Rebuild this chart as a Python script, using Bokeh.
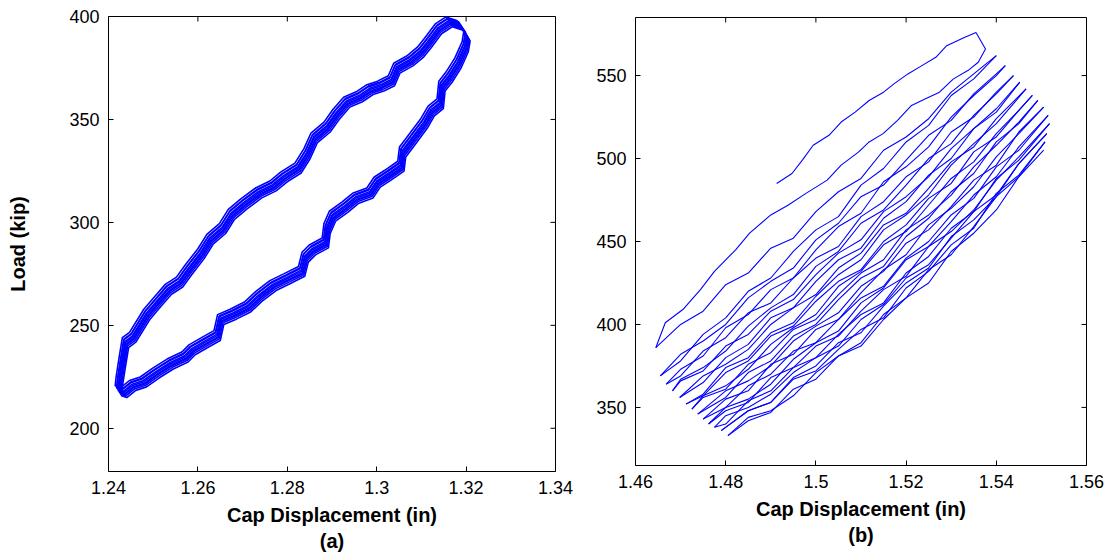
import math
from bokeh.plotting import figure
from bokeh.models import Range1d, FixedTicker, Title
from bokeh.layouts import row, column
from bokeh.embed import file_html
from bokeh.resources import INLINE

# ---------------- Panel (a) data ----------------
a_upper_x = [1.2424, 1.2430, 1.2438, 1.2454, 1.2486, 1.2510, 1.2534, 1.2559, 1.2579, 1.2607,
             1.2627, 1.2655, 1.2675, 1.2703, 1.2736, 1.2768, 1.2792, 1.2824, 1.2844, 1.2860,
             1.2889, 1.2909, 1.2933, 1.2961, 1.2985, 1.3009, 1.3033, 1.3045, 1.3074, 1.3098,
             1.3114, 1.3138, 1.3162, 1.3186, 1.3202]
a_upper_y = [222.5, 231, 241.6, 244.2, 255.4, 261.5, 267.5, 271, 277, 284.8,
             291.8, 297, 303.9, 309, 314.3, 317.7, 322, 326.4, 333.3, 341,
             346.3, 352.4, 358.4, 361, 364.5, 366.2, 368.8, 374.9, 378.4, 382.7,
             387, 394, 397.4, 395.7, 390.5]
a_lower_x = [1.3198, 1.3182, 1.3162, 1.3146, 1.3142, 1.3122, 1.3106, 1.3082, 1.3058, 1.3054,
             1.3025, 1.3001, 1.2985, 1.2953, 1.2929, 1.2901, 1.2889, 1.2885, 1.2856, 1.2840,
             1.2832, 1.2800, 1.2768, 1.2736, 1.2711, 1.2679, 1.2651, 1.2643, 1.2615, 1.2587,
             1.2571, 1.2538, 1.2506, 1.2478, 1.2454, 1.2434, 1.2422, 1.2424]
a_lower_y = [385.3, 377.5, 370.6, 366.2, 357.6, 354.1, 348.1, 341.1, 334.2, 327.3,
             322.9, 319.5, 314.3, 311.7, 307.4, 303, 297, 290, 286.6, 283.1,
             276.2, 272.7, 269.3, 264, 258.9, 255.4, 252.8, 245, 241.6, 238.1,
             234.6, 231.2, 226.8, 222.5, 220.8, 217.3, 218.2, 222.5]
# spread of the repeated cycles
a_cycle_dx = [-0.0007, -0.0004, -0.0001, 0.0002, 0.0005, 0.0007, -0.0003, 0.0003, 0.0000]
a_cycle_dy = [2.4, 1.3, 0.6, -0.6, -1.6, -2.4, 1.8, -1.0, 0.0]

a_xticks = [1.24, 1.26, 1.28, 1.30, 1.32, 1.34]
a_xlabels = ["1.24", "1.26", "1.28", "1.3", "1.32", "1.34"]
a_yticks = [200, 250, 300, 350, 400]
a_ylabels = ["200", "250", "300", "350", "400"]

# ---------------- Panel (b) data ----------------
b_first_x = [1.4913, 1.4947, 1.4970, 1.4994, 1.5029, 1.5056, 1.5087, 1.5118, 1.5150, 1.5173,
             1.5204, 1.5235, 1.5266, 1.5290, 1.5329, 1.5355]
b_first_y = [485, 491, 499, 508, 514, 522, 528, 535, 540, 545, 551, 556, 561, 568, 573, 576]
b_second_x = [1.5355, 1.5376, 1.5360, 1.5337, 1.5305, 1.5274, 1.5243, 1.5212, 1.5181, 1.5149,
              1.5118, 1.5095, 1.5056, 1.5025, 1.4978, 1.4939, 1.4900, 1.4853, 1.4822, 1.4775,
              1.4744, 1.4705, 1.4666, 1.4645]
b_second_y = [576, 566, 558, 553, 548, 540, 536, 532, 523, 515, 510, 504, 496, 487, 479, 472,
              466, 455, 445, 432, 421, 409, 401, 386]

b_grid = [1.470, 1.475, 1.480, 1.485, 1.490, 1.495, 1.500, 1.505, 1.510, 1.515,
          1.520, 1.525, 1.530, 1.535, 1.540, 1.545]
# (start x, first grid index, last grid index, end x)
b_spans = [
    (1.4645, 0, 14, None), (1.4655, 0, 14, None), (1.4655, 0, 14, 1.542), (1.4668, 0, 14, 1.542),
    (1.4668, 0, 14, 1.5438), (1.4682, 0, 14, 1.5438), (1.4682, 0, 14, 1.5452), (1.4698, 1, 14, 1.5452),
    (1.4698, 1, 14, 1.5466), (1.4712, 1, 14, 1.5466), (1.4712, 1, 15, 1.548), (1.4725, 1, 15, 1.548),
    (1.4725, 1, 15, 1.5492), (1.4738, 2, 15, 1.5492), (1.4738, 2, 15, 1.5505), (1.475, 2, 15, 1.5505),
    (1.475, 2, 15, 1.5515), (1.4762, 2, 15, 1.5515), (1.4762, 2, 15, 1.5518), (1.4775, 2, 15, 1.5518),
    (1.4775, 2, 15, 1.5512), (1.479, 3, 15, 1.5512), (1.479, 3, 15, 1.5508), (1.4805, 3, 15, 1.5508),
    (1.4805, 3, 15, 1.5505),
]
b_loads = [
    [386, 400, 408, 424, 431, 446, 452, 468, 480, 488, 505, 513, 524, 540, 551, 562],
    [369, 378, 394, 404, 420, 428, 444, 457, 465, 484, 494, 510, 520, 538, 548, 562],
    [369, 382, 390, 400, 416, 426, 434, 451, 461, 477, 484, 499, 514, 523, 539, 551, 556],
    [364, 373, 381, 398, 406, 421, 428, 445, 459, 467, 486, 495, 507, 525, 538, 550, 556],
    [364, 369, 384, 392, 407, 413, 428, 440, 447, 465, 474, 489, 498, 516, 525, 540, 550],
    [360, 367, 374, 384, 399, 410, 418, 435, 444, 461, 469, 484, 500, 509, 526, 539, 550],
    [360, 366, 372, 387, 394, 408, 415, 430, 443, 451, 468, 477, 489, 506, 518, 530, 546],
    [356, 365, 380, 388, 404, 410, 426, 439, 446, 464, 474, 490, 500, 518, 528, 546],
    [356, 369, 376, 385, 400, 410, 418, 434, 443, 460, 467, 482, 498, 507, 524, 542],
    [352, 358, 374, 380, 395, 401, 417, 430, 439, 457, 466, 478, 496, 509, 521, 542],
    [352, 357, 371, 378, 393, 399, 414, 426, 433, 450, 460, 476, 485, 504, 513, 529, 538],
    [349, 357, 363, 373, 388, 398, 406, 423, 432, 448, 456, 472, 488, 498, 515, 529, 538],
    [349, 356, 361, 376, 383, 397, 403, 418, 431, 439, 457, 466, 478, 495, 508, 522, 535],
    [346, 356, 371, 378, 393, 400, 415, 428, 435, 453, 464, 480, 491, 510, 521, 535],
    [346, 360, 366, 375, 390, 399, 407, 423, 432, 449, 457, 471, 487, 496, 516, 531],
    [343, 355, 360, 376, 382, 397, 403, 419, 433, 442, 460, 470, 483, 501, 515, 531],
    [343, 350, 363, 370, 384, 389, 403, 416, 423, 440, 450, 466, 476, 495, 505, 526],
    [340, 350, 355, 364, 379, 389, 396, 413, 422, 439, 447, 462, 478, 489, 507, 526],
    [340, 348, 353, 368, 374, 387, 393, 408, 421, 429, 447, 456, 469, 487, 501, 521],
    [338, 340, 354, 360, 374, 380, 394, 406, 413, 431, 441, 458, 468, 488, 499, 521],
    [338, 345, 350, 358, 371, 380, 387, 403, 412, 428, 436, 452, 468, 478, 497, 515],
    [336, 348, 353, 368, 375, 389, 395, 411, 425, 434, 453, 463, 477, 497, 515],
    [336, 348, 353, 367, 372, 385, 397, 404, 422, 432, 448, 458, 479, 490, 510],
    [333, 344, 348, 357, 371, 381, 389, 406, 416, 433, 442, 459, 477, 489, 510],
    [333, 342, 347, 361, 367, 381, 387, 403, 416, 425, 444, 455, 469, 489, 505],
]

b_xticks = [1.46, 1.48, 1.50, 1.52, 1.54, 1.56]
b_xlabels = ["1.46", "1.48", "1.5", "1.52", "1.54", "1.56"]
b_yticks = [350, 400, 450, 500, 550]
b_ylabels = ["350", "400", "450", "500", "550"]

FONT = "Liberation Sans"
BLUE = "#0000ff"


def make_panel(xr, yr, xt, xtl, yt, ytl, ylabel, tag, fw, fh, left, right, top, bottom):
    p = figure(width=left + fw + right, height=top + fh + bottom,
               x_range=Range1d(*xr), y_range=Range1d(*yr),
               output_backend="svg", toolbar_location=None,
               min_border_left=left, min_border_right=right,
               min_border_top=top, min_border_bottom=bottom)
    p.grid.visible = False
    p.outline_line_color = "black"
    p.outline_line_width = 1
    p.outline_line_alpha = 1
    p.background_fill_color = "white"
    p.border_fill_color = "white"

    for ax, ticks, labels in ((p.xaxis[0], xt, xtl), (p.yaxis[0], yt, ytl)):
        ax.ticker = FixedTicker(ticks=ticks)
        ax.axis_line_color = None
        ax.major_tick_in = 5
        ax.major_tick_out = 0
        ax.minor_tick_in = 0
        ax.minor_tick_out = 0
        ax.major_tick_line_color = "black"
        ax.major_tick_line_width = 1
        ax.major_label_overrides = {t: l for t, l in zip(ticks, labels)}
        ax.major_label_text_font = FONT
        ax.major_label_text_font_size = "18px"
        ax.major_label_text_color = "black"
        ax.major_label_standoff = 9

    xa = p.xaxis[0]
    xa.axis_label = "Cap Displacement (in)"
    xa.axis_label_text_font = FONT
    xa.axis_label_text_font_style = "bold"
    xa.axis_label_text_font_size = "20px"
    xa.axis_label_text_color = "black"
    xa.axis_label_standoff = 7
    if ylabel:
        ya = p.yaxis[0]
        ya.axis_label = ylabel
        ya.axis_label_text_font = FONT
        ya.axis_label_text_font_style = "bold"
        ya.axis_label_text_font_size = "20px"
        ya.axis_label_text_color = "black"
        ya.axis_label_standoff = 37

    # inward ticks on the top and right edges of the box
    p.ray(x=xt, y=[yr[1]] * len(xt), length=5, length_units="screen",
          angle=-math.pi / 2, line_color="black", line_width=1)
    p.ray(x=[xr[1]] * len(yt), y=yt, length=5, length_units="screen",
          angle=math.pi, line_color="black", line_width=1)

    # panel tag under the axis title
    p.add_layout(Title(text=tag, align="center", text_font=FONT, text_font_style="bold",
                       text_font_size="20px", text_color="black", standoff=-2, offset=0),
                 "below")
    return p


pa = make_panel((1.24, 1.34), (179, 400), a_xticks, a_xlabels, a_yticks, a_ylabels,
                "Load (kip)", "(a)", 447, 455, 108, 20, 16, 83)
loop_x = a_upper_x + a_lower_x
loop_y = a_upper_y + a_lower_y
a_xs = [[x + dx for x in loop_x] for dx in a_cycle_dx]
a_ys = [[y + dy for y in loop_y] for dy in a_cycle_dy]
pa.multi_line(xs=a_xs, ys=a_ys, line_color=BLUE, line_width=1.6)

pb = make_panel((1.46, 1.56), (315, 585), b_xticks, b_xlabels, b_yticks, b_ylabels,
                None, "(b)", 451, 448, 60, 19, 17, 89)
b_xs = [b_first_x, b_second_x]
b_ys = [b_first_y, b_second_y]
for (xs0, i0, i1, xe), loads in zip(b_spans, b_loads):
    xs = [xs0] + b_grid[i0:i1 + 1] + ([xe] if xe is not None else [])
    b_xs.append(xs)
    b_ys.append(loads)
pb.multi_line(xs=b_xs, ys=b_ys, line_color=BLUE, line_width=1.1)

layout = row(column(pa), column(pb))
open("out.html", "w").write(file_html(layout, INLINE))
